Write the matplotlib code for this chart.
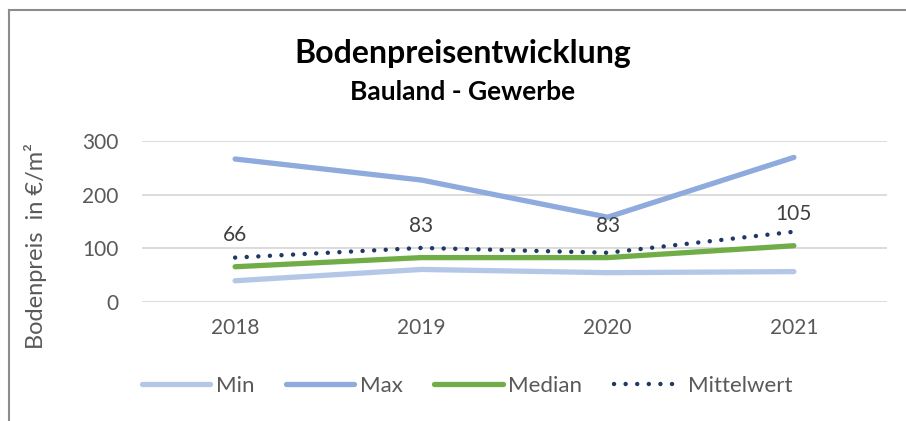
import matplotlib
matplotlib.use("Agg")
import matplotlib.pyplot as plt
from matplotlib.lines import Line2D

years = ["2018", "2019", "2020", "2021"]
min_vals = [40, 61, 55, 57]
max_vals = [266, 227, 158, 269]
median_vals = [66, 83, 83, 105]
mean_vals = [83, 101, 92, 131]
median_labels = ["66", "83", "83", "105"]
yticks = [0, 100, 200, 300]

plt.rcParams['font.family'] = ['Lato', 'DejaVu Sans']

W, H = 906, 421
fig = plt.figure(figsize=(W / 100, H / 100), dpi=100)
ax = fig.add_axes([142 / W, (H - 302.3) / H, 745 / W, 161.6 / H])

x = list(range(len(years)))
lw = 3.8
ax.plot(x, min_vals, color="#B4C7E7", lw=lw, solid_capstyle="round", label="Min", zorder=3)
ax.plot(x, max_vals, color="#8FAADC", lw=lw, solid_capstyle="round", label="Max", zorder=3)
ax.plot(x, median_vals, color="#70AD47", lw=lw, solid_capstyle="round", label="Median", zorder=4)
ax.plot(x, mean_vals, color="#203864", lw=3.2, linestyle=(0, (0.01, 2.6)),
        dash_capstyle="round", label="Mittelwert", zorder=5)

for xi, v, lab in zip(x, median_vals, median_labels):
    ax.annotate(lab, (xi, v), xytext=(0, 22.5), textcoords="offset points",
                ha="center", va="center", fontsize=15, color="#404040")

ax.set_xlim(-0.5, 3.5)
ax.set_ylim(0, 300)
ax.set_yticks(yticks)
ax.set_xticks(x)
ax.set_xticklabels(years)
ax.tick_params(axis="both", length=0, labelsize=15, colors="#595959")
ax.tick_params(axis="x", pad=11)
ax.tick_params(axis="y", pad=17)
ax.grid(axis="y", color="#D9D9D9", lw=1.3)
ax.set_axisbelow(True)
for s in ax.spines.values():
    s.set_visible(False)

fig.text(36 / W, 1 - 246 / H, "Bodenpreis  in €/m²", rotation=90, ha="center", va="center",
         fontsize=17, color="#595959")

fig.text(463 / W, 1 - 54 / H, "Bodenpreisentwicklung", ha="center", va="center",
         fontsize=23, fontweight="bold", color="black")
fig.text(463 / W, 1 - 92 / H, "Bauland - Gewerbe", ha="center", va="center",
         fontsize=19, fontweight="bold", color="black")

handles, labels = ax.get_legend_handles_labels()
leg = fig.legend(handles, labels, loc="center", bbox_to_anchor=(467 / W, 1 - 386 / H),
                 ncol=4, frameon=False, fontsize=16, handlelength=3.1, columnspacing=1.4,
                 handletextpad=0.25, labelcolor="#595959")

# chart border (left and top edges visible)
fig.add_artist(Line2D([8.5 / W, 8.5 / W], [0, 1 - 9.5 / H], transform=fig.transFigure,
                      color="#8C8C8C", lw=1.5))
fig.add_artist(Line2D([8.5 / W, 1], [1 - 9.5 / H, 1 - 9.5 / H], transform=fig.transFigure,
                      color="#8C8C8C", lw=1.5))

fig.savefig("out.png", dpi=100)
